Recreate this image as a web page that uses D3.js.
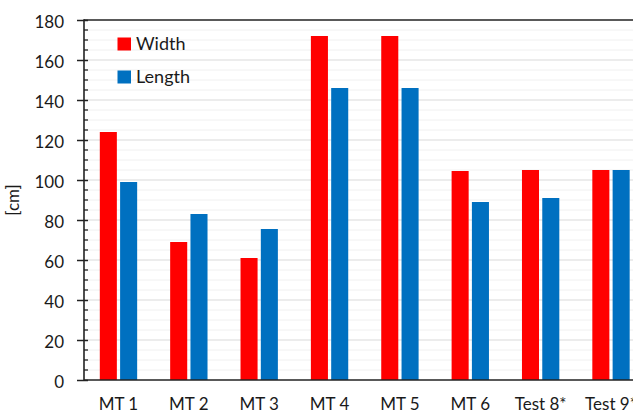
<!DOCTYPE html>
<html>
<head>
<meta charset="utf-8">
<script src="https://cdn.jsdelivr.net/npm/d3@7"></script>
<style>
  html, body { margin: 0; padding: 0; background: #fff; overflow: hidden; }
  svg { display: block; }
  text { font-family: Lato, "Open Sans", sans-serif; fill: #1a1a1a; }
</style>
</head>
<body>
<svg id="chart" width="633" height="414"></svg>
<script>
const categories = ["MT 1", "MT 2", "MT 3", "MT 4", "MT 5", "MT 6", "Test 8*", "Test 9*"];
const seriesNames = ["Width", "Length"];
const widthValues = [124, 69, 61, 172, 172, 104.5, 105, 105];
const lengthValues = [99, 83, 75.5, 146, 146, 89, 91, 105];
const seriesColors = ["#ff0000", "#0070c0"];
const yTicks = [0, 20, 40, 60, 80, 100, 120, 140, 160, 180];
const yMinorTicks = d3.range(5, 180, 5).filter(v => v % 20 !== 0);
const yLabel = "[cm]";

const svg = d3.select("#chart");
const plotLeft = 84, plotTop = 20, plotBottom = 380;
const step = 70.36;

const x0 = d3.scaleBand().domain(categories)
  .range([83.3, 83.3 + step * categories.length]).paddingInner(0).paddingOuter(0);
const x1 = d3.scaleBand().domain(seriesNames)
  .range([0, x0.bandwidth()]).paddingInner(0.16).paddingOuter(0.813);
const y = d3.scaleLinear().domain([0, 180]).range([plotBottom, plotTop]);

const rightEdge = 700;

// minor gridlines
svg.append("g").selectAll("line").data(yMinorTicks).join("line")
  .attr("x1", plotLeft).attr("x2", rightEdge)
  .attr("y1", d => y(d)).attr("y2", d => y(d))
  .attr("stroke", "#f0f0f0").attr("stroke-width", 1);
// major gridlines
svg.append("g").selectAll("line").data(yTicks.filter(v => v > 0 && v < 180)).join("line")
  .attr("x1", plotLeft).attr("x2", rightEdge)
  .attr("y1", d => y(d)).attr("y2", d => y(d))
  .attr("stroke", "#d9d9d9").attr("stroke-width", 1);

// bars
const data = categories.map((c, i) => ({ cat: c, vals: [widthValues[i], lengthValues[i]] }));
const groups = svg.append("g").selectAll("g").data(data).join("g")
  .attr("transform", d => `translate(${x0(d.cat)},0)`);
groups.selectAll("rect").data(d => d.vals.map((v, j) => ({ s: seriesNames[j], v, j })))
  .join("rect")
  .attr("x", d => x1(d.s))
  .attr("width", x1.bandwidth())
  .attr("y", d => y(d.v))
  .attr("height", d => y(0) - y(d.v))
  .attr("fill", d => seriesColors[d.j]);

// top frame line
svg.append("line").attr("x1", plotLeft).attr("x2", rightEdge)
  .attr("y1", y(180)).attr("y2", y(180))
  .attr("stroke", "#222").attr("stroke-width", 1.6);

// y axis
const yAxis = d3.axisLeft(y).tickValues(yTicks).tickSize(7).tickPadding(13);
const gy = svg.append("g").attr("transform", `translate(${plotLeft},0)`).call(yAxis);
gy.select(".domain").remove();
gy.selectAll(".tick line").attr("x2", -7).attr("x1", 4).attr("stroke", "#222").attr("stroke-width", 1.5);
gy.selectAll(".tick text").attr("font-size", 17).attr("fill", "#1a1a1a")
  .attr("font-family", "Lato, 'Open Sans', sans-serif").attr("dy", "0.42em");
// minor ticks
svg.append("g").selectAll("line").data(yMinorTicks).join("line")
  .attr("x1", plotLeft).attr("x2", plotLeft + 4)
  .attr("y1", d => y(d)).attr("y2", d => y(d))
  .attr("stroke", "#222").attr("stroke-width", 1.3);
svg.append("line").attr("x1", plotLeft).attr("x2", plotLeft)
  .attr("y1", y(180) - 0.8).attr("y2", y(0) + 0.8)
  .attr("stroke", "#222").attr("stroke-width", 1.6);

// x axis
svg.append("line").attr("x1", plotLeft).attr("x2", rightEdge)
  .attr("y1", y(0)).attr("y2", y(0))
  .attr("stroke", "#222").attr("stroke-width", 1.6);
svg.append("g").selectAll("text").data(categories).join("text")
  .attr("x", d => x0(d) + x0.bandwidth() / 2)
  .attr("y", 410)
  .attr("text-anchor", "middle")
  .attr("font-size", 17)
  .text(d => d);

// y label
svg.append("text")
  .attr("transform", `translate(19,200) rotate(-90)`)
  .attr("text-anchor", "middle")
  .attr("font-size", 17)
  .text(yLabel);

// legend
const legend = svg.append("g");
seriesNames.forEach((s, i) => {
  const ly = 37.5 + i * 33;
  legend.append("rect").attr("x", 117.5).attr("y", ly).attr("width", 13.5).attr("height", 13)
    .attr("fill", seriesColors[i]);
  legend.append("text").attr("x", 136).attr("y", ly + 12).attr("font-size", 18).text(s);
});
</script>
</body>
</html>
